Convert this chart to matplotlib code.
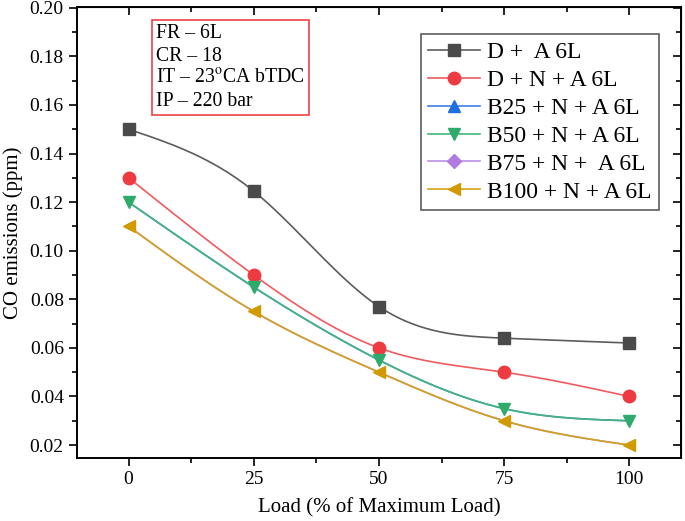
import matplotlib
matplotlib.use("Agg")
import matplotlib.pyplot as plt
import numpy as np

plt.rcParams["font.family"] = ["Liberation Serif", "DejaVu Serif"]
plt.rcParams["mathtext.fontset"] = "stix"

# Load points (% of maximum load)
load = [0, 25, 50, 75, 100]

# CO emissions (ppm) per blend
co_d_a = [0.150, 0.1245, 0.077, 0.064, 0.062]
co_d_n_a = [0.130, 0.090, 0.060, 0.050, 0.040]
co_b25 = [0.120, 0.085, 0.055, 0.035, 0.030]
co_b50 = [0.120, 0.085, 0.055, 0.035, 0.030]
co_b75 = [0.110, 0.075, 0.050, 0.030, 0.020]
co_b100 = [0.110, 0.075, 0.050, 0.030, 0.020]

labels = ["D +  A 6L", "D + N + A 6L", "B25 + N + A 6L",
          "B50 + N + A 6L", "B75 + N +  A 6L", "B100 + N + A 6L"]
series = [co_d_a, co_d_n_a, co_b25, co_b50, co_b75, co_b100]
markers = ["s", "o", "^", "v", "D", "<"]
marker_colors = ["#4a4a4a", "#ee3b42", "#1f6fe0", "#2eaa6a", "#b07be0", "#d09a00"]
line_colors = ["#5c5c5c", "#f25a5e", "#3c82e6", "#45b57b", "#bb8de4", "#d4a21a"]
marker_sizes = [8, 9, 9, 9, 7, 9]
# B25 and B75 overlap B50 / B100 and sit underneath them
plot_sizes = [8, 9, 3, 9, 3, 9]
plot_z = [3, 3, 1, 3, 1, 3]

conditions = ["FR – 6L", "CR – 18", "IT – 23$^{\\rm o}$CA bTDC", "IP – 220 bar"]


def smooth(x, y, n=200):
    """Natural cubic spline through the data points (for the connecting line only)."""
    x = np.asarray(x, float)
    y = np.asarray(y, float)
    k = len(x)
    h = np.diff(x)
    A = np.zeros((k, k))
    b = np.zeros(k)
    A[0, 0] = A[-1, -1] = 1
    for i in range(1, k - 1):
        A[i, i - 1] = h[i - 1]
        A[i, i] = 2 * (h[i - 1] + h[i])
        A[i, i + 1] = h[i]
        b[i] = 6 * ((y[i + 1] - y[i]) / h[i] - (y[i] - y[i - 1]) / h[i - 1])
    m = np.linalg.solve(A, b)
    xs = np.linspace(x[0], x[-1], n)
    idx = np.clip(np.searchsorted(x, xs) - 1, 0, k - 2)
    t = xs - x[idx]
    hi = h[idx]
    a = (m[idx + 1] - m[idx]) / (6 * hi)
    bb = m[idx] / 2
    c = (y[idx + 1] - y[idx]) / hi - hi * (2 * m[idx] + m[idx + 1]) / 6
    ys = y[idx] + c * t + bb * t ** 2 + a * t ** 3
    return xs, ys


fig = plt.figure(figsize=(6.85, 5.21), dpi=100)
ax = fig.add_axes([0.1124, 0.121, 0.8816, 0.8656])

handles = []
for vals, lab, mk, mc, lc, ms, ps, z in zip(series, labels, markers, marker_colors,
                                              line_colors, marker_sizes, plot_sizes, plot_z):
    xs, ys = smooth(load, vals)
    ax.plot(xs, ys, color=lc, lw=1.2, zorder=z - 1)
    ax.plot(load, vals, ls="none", marker=mk, color=mc, ms=ps, mec=mc, zorder=z)
    h, = ax.plot([], [], color=lc, lw=1.2, marker=mk, mfc=mc, mec=mc, ms=ms)
    handles.append(h)

ax.set_xlim(-10.3, 110.3)
ax.set_ylim(0.0147, 0.2003)
ax.set_xticks(load)
ax.set_xticks([12.5, 37.5, 62.5, 87.5], minor=True)
ax.set_yticks(np.arange(0.02, 0.201, 0.02))
ax.set_yticks(np.arange(0.03, 0.20, 0.02), minor=True)
ax.yaxis.set_major_formatter(matplotlib.ticker.FormatStrFormatter("%.2f"))

for s in ax.spines.values():
    s.set_linewidth(1.4)
ax.tick_params(which="both", direction="out", width=1.2, labelsize=14)
ax.tick_params(which="major", length=6)
ax.tick_params(which="minor", length=3.5)
# mirrored ticks on top / right, pointing inward
ax2 = ax.secondary_xaxis("top")
ax2.set_xticks(load)
ax2.set_xticks([12.5, 37.5, 62.5, 87.5], minor=True)
ax2.tick_params(which="both", direction="in", width=1.2, labeltop=False)
ax2.tick_params(which="major", length=6)
ax2.tick_params(which="minor", length=3.5)
ax3 = ax.secondary_yaxis("right")
ax3.set_yticks(np.arange(0.02, 0.201, 0.02))
ax3.set_yticks(np.arange(0.03, 0.20, 0.02), minor=True)
ax3.tick_params(which="both", direction="in", width=1.2, labelright=False)
ax3.tick_params(which="major", length=6)
ax3.tick_params(which="minor", length=3.5)

ax.set_xlabel("Load (% of Maximum Load)", fontsize=15, labelpad=7)
ax.set_ylabel("CO emissions (ppm)", fontsize=15, labelpad=5)

ax.text(0.131, 0.962, "\n".join(conditions), transform=ax.transAxes,
        ha="left", va="top", fontsize=14.2, linespacing=1.25,
        bbox=dict(boxstyle="square,pad=0.2", fc="white", ec="#f04045", lw=1.2))

leg = ax.legend(handles, labels, loc="upper right", bbox_to_anchor=(0.964, 0.94),
                fontsize=17, frameon=True, fancybox=False, handlelength=2.2,
                handletextpad=0.3, labelspacing=0.27, borderpad=0.32,
                borderaxespad=0)
leg.get_frame().set_edgecolor("#333333")
leg.get_frame().set_linewidth(1.2)

fig.savefig("out.png", dpi=100)
